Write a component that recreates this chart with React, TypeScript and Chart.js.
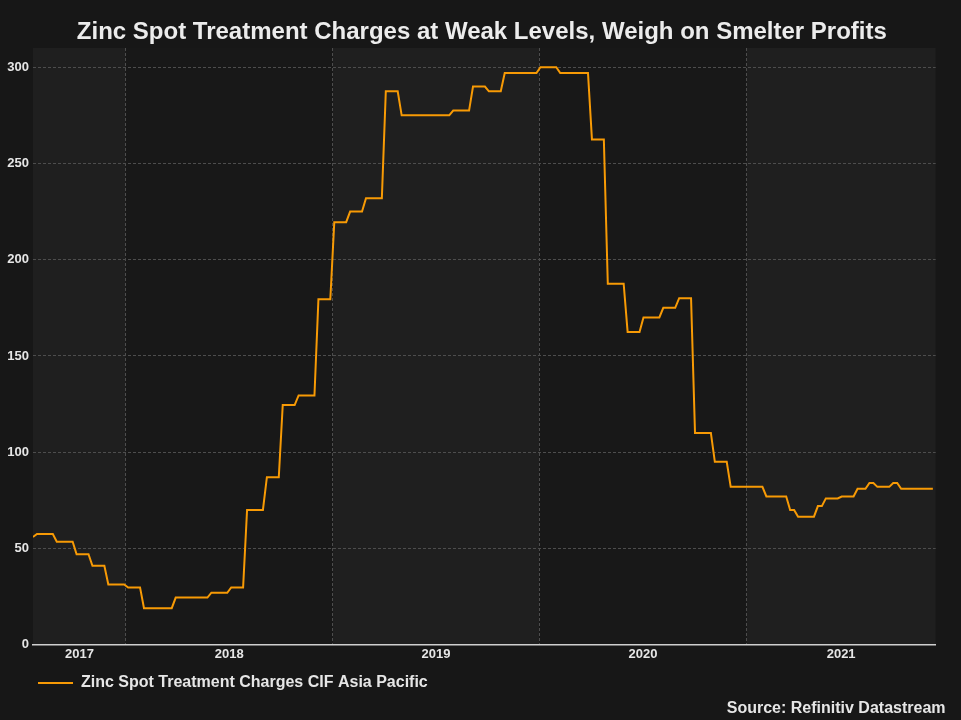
import React, { useEffect, useRef } from "react";
import { Chart, registerables } from "chart.js";

Chart.register(...registerables);

const TITLE = "Zinc Spot Treatment Charges at Weak Levels, Weigh on Smelter Profits";
const SERIES_LABEL = "Zinc Spot Treatment Charges CIF Asia Pacific";
const SOURCE = "Source: Refinitiv Datastream";

// weekly observations, first week and axis range
const firstWeek = "2017-07-21";
const axisStart = "2017-07-21";
const axisEnd = "2021-12-01";
const years = [2017, 2018, 2019, 2020, 2021];
const yTicks = [0, 50, 100, 150, 200, 250, 300];
const yMax = 310;

// consecutive weekly values grouped into runs: level and number of weeks at that level
const runValues = [
  56, 57.5, 53.5, 47, 41, 31.25, 29.75, 19, 24.5, 27, 29.75, 70, 87, 124.5, 129.5, 179.5,
  219.5, 225, 232, 287.5, 275, 277.5, 290, 287.5, 297, 300, 297, 262.5, 187.5, 162.5, 170,
  175, 180, 110, 95, 82, 77, 70, 66.5, 72, 76, 77, 81, 84, 82, 84, 81,
];
const runWeeks = [
  1, 5, 5, 4, 4, 5, 4, 8, 9, 5, 4, 5, 4, 4, 5, 4,
  4, 4, 5, 4, 13, 5, 4, 4, 9, 5, 8, 4, 5, 4, 5,
  4, 4, 5, 4, 9, 6, 2, 5, 2, 4, 4, 3, 2, 4, 2, 9,
];

const BG = "#171717";
const BAND_LIGHT = "#1f1f1f";
const BAND_DARK = "#181818";
const GRID = "#4d4d4d";
const TEXT = "#e6e6e6";
const LINE = "#f79a05";
const FONT = "'Liberation Sans', Arial, Helvetica, sans-serif";

const DAY = 86400000;
const parseDate = (s: string) => {
  const [y, m, d] = s.split("-").map(Number);
  return Date.UTC(y, m - 1, d);
};

export default function App() {
  const ref = useRef<HTMLCanvasElement | null>(null);

  useEffect(() => {
    document.body.style.margin = "0";
    document.body.style.background = BG;
    const canvas = ref.current;
    if (!canvas) return;

    const start = parseDate(firstWeek);
    const points: { x: number; y: number }[] = [];
    let week = 0;
    runValues.forEach((v, i) => {
      for (let k = 0; k < runWeeks[i]; k++) {
        points.push({ x: start + week * 7 * DAY, y: v });
        week++;
      }
    });

    const xMin = parseDate(axisStart);
    const xMax = parseDate(axisEnd);
    const boundaries = years.slice(1).map((y) => Date.UTC(y, 0, 1));
    const mids = years.map((y) => {
      const s = Math.max(Date.UTC(y, 0, 1), xMin);
      const e = Math.min(Date.UTC(y + 1, 0, 1), xMax);
      return (s + e) / 2;
    });
    const xTickList = [
      ...boundaries.map((v) => ({ value: v, label: "" })),
      ...mids.map((v, i) => ({ value: v, label: String(years[i]) })),
    ].sort((a, b) => a.value - b.value);
    const boundarySet = new Set(boundaries);

    const bandPlugin = {
      id: "bands",
      beforeDraw(chart: any) {
        const { ctx, chartArea: a } = chart;
        const x = chart.scales.x;
        ctx.save();
        ctx.fillStyle = BG;
        ctx.fillRect(0, 0, chart.width, chart.height);
        years.forEach((yr, i) => {
          const s = Math.max(Date.UTC(yr, 0, 1), x.min);
          const e = Math.min(Date.UTC(yr + 1, 0, 1), x.max);
          const x1 = x.getPixelForValue(s);
          const x2 = x.getPixelForValue(e);
          ctx.fillStyle = i % 2 === 0 ? BAND_LIGHT : BAND_DARK;
          ctx.fillRect(x1, a.top, x2 - x1, a.bottom - a.top);
        });
        ctx.restore();
      },
      afterDraw(chart: any) {
        const { ctx } = chart;
        ctx.save();
        ctx.font = `bold 16px ${FONT}`;
        ctx.fillStyle = TEXT;
        ctx.textAlign = "right";
        ctx.textBaseline = "middle";
        ctx.fillText(SOURCE, chart.width - 15.5, 708.5);
        ctx.restore();
      },
    };

    const chart = new Chart(canvas, {
      type: "line",
      data: {
        datasets: [
          {
            label: SERIES_LABEL,
            data: points,
            borderColor: LINE,
            backgroundColor: LINE,
            borderWidth: 2,
            pointRadius: 0,
            tension: 0,
            fill: false,
          },
        ],
      },
      options: {
        animation: false,
        responsive: true,
        maintainAspectRatio: false,
        events: [],
        layout: { padding: { left: 28, right: 25.3, top: 0, bottom: 19 } },
        scales: {
          x: {
            type: "linear",
            min: xMin,
            max: xMax,
            afterBuildTicks: (scale: any) => {
              scale.ticks = xTickList.map((t) => ({ value: t.value }));
            },
            ticks: {
              autoSkip: false,
              maxRotation: 0,
              padding: 3,
              color: TEXT,
              font: { family: FONT, size: 13, weight: "bold", lineHeight: 1.1 },
              callback: (value: any) => {
                const t = xTickList.find((tt) => tt.value === value);
                return t ? t.label : "";
              },
            },
            grid: {
              drawTicks: false,
              color: (ctx: any) => (ctx.tick && boundarySet.has(ctx.tick.value) ? GRID : "rgba(0,0,0,0)"),
              lineWidth: 1,
            },
            border: { display: true, color: "#cfcfcf", width: 1.5, dash: [3, 2] },
          },
          y: {
            type: "linear",
            min: 0,
            max: yMax,
            afterBuildTicks: (scale: any) => {
              scale.ticks = yTicks.map((v) => ({ value: v }));
            },
            afterFit: (scale: any) => {
              scale.width = 5;
            },
            ticks: {
              mirror: true,
              crossAlign: "far",
              padding: -25.7,
              color: TEXT,
              font: { family: FONT, size: 13, weight: "bold" },
            },
            grid: {
              drawTicks: false,
              color: (ctx: any) => (ctx.tick && ctx.tick.value === 0 ? "rgba(0,0,0,0)" : GRID),
              lineWidth: 1,
            },
            border: { display: false, dash: [3, 2] },
          },
        },
        plugins: {
          title: {
            display: true,
            text: TITLE,
            color: "#ececec",
            font: { family: FONT, size: 24, weight: "bold", lineHeight: 1.2 },
            padding: { top: 17.6, bottom: 1.6 },
          },
          legend: {
            display: true,
            position: "bottom",
            align: "start",
            labels: {
              usePointStyle: true,
              pointStyle: "line",
              pointStyleWidth: 35,
              padding: 10,
              color: TEXT,
              font: { family: FONT, size: 16, weight: "bold" },
            },
          },
          tooltip: { enabled: false },
        },
      },
      plugins: [bandPlugin],
    });

    return () => chart.destroy();
  }, []);

  return (
    <div style={{ position: "relative", width: 961, height: 720, background: BG }}>
      <canvas ref={ref} />
    </div>
  );
}
